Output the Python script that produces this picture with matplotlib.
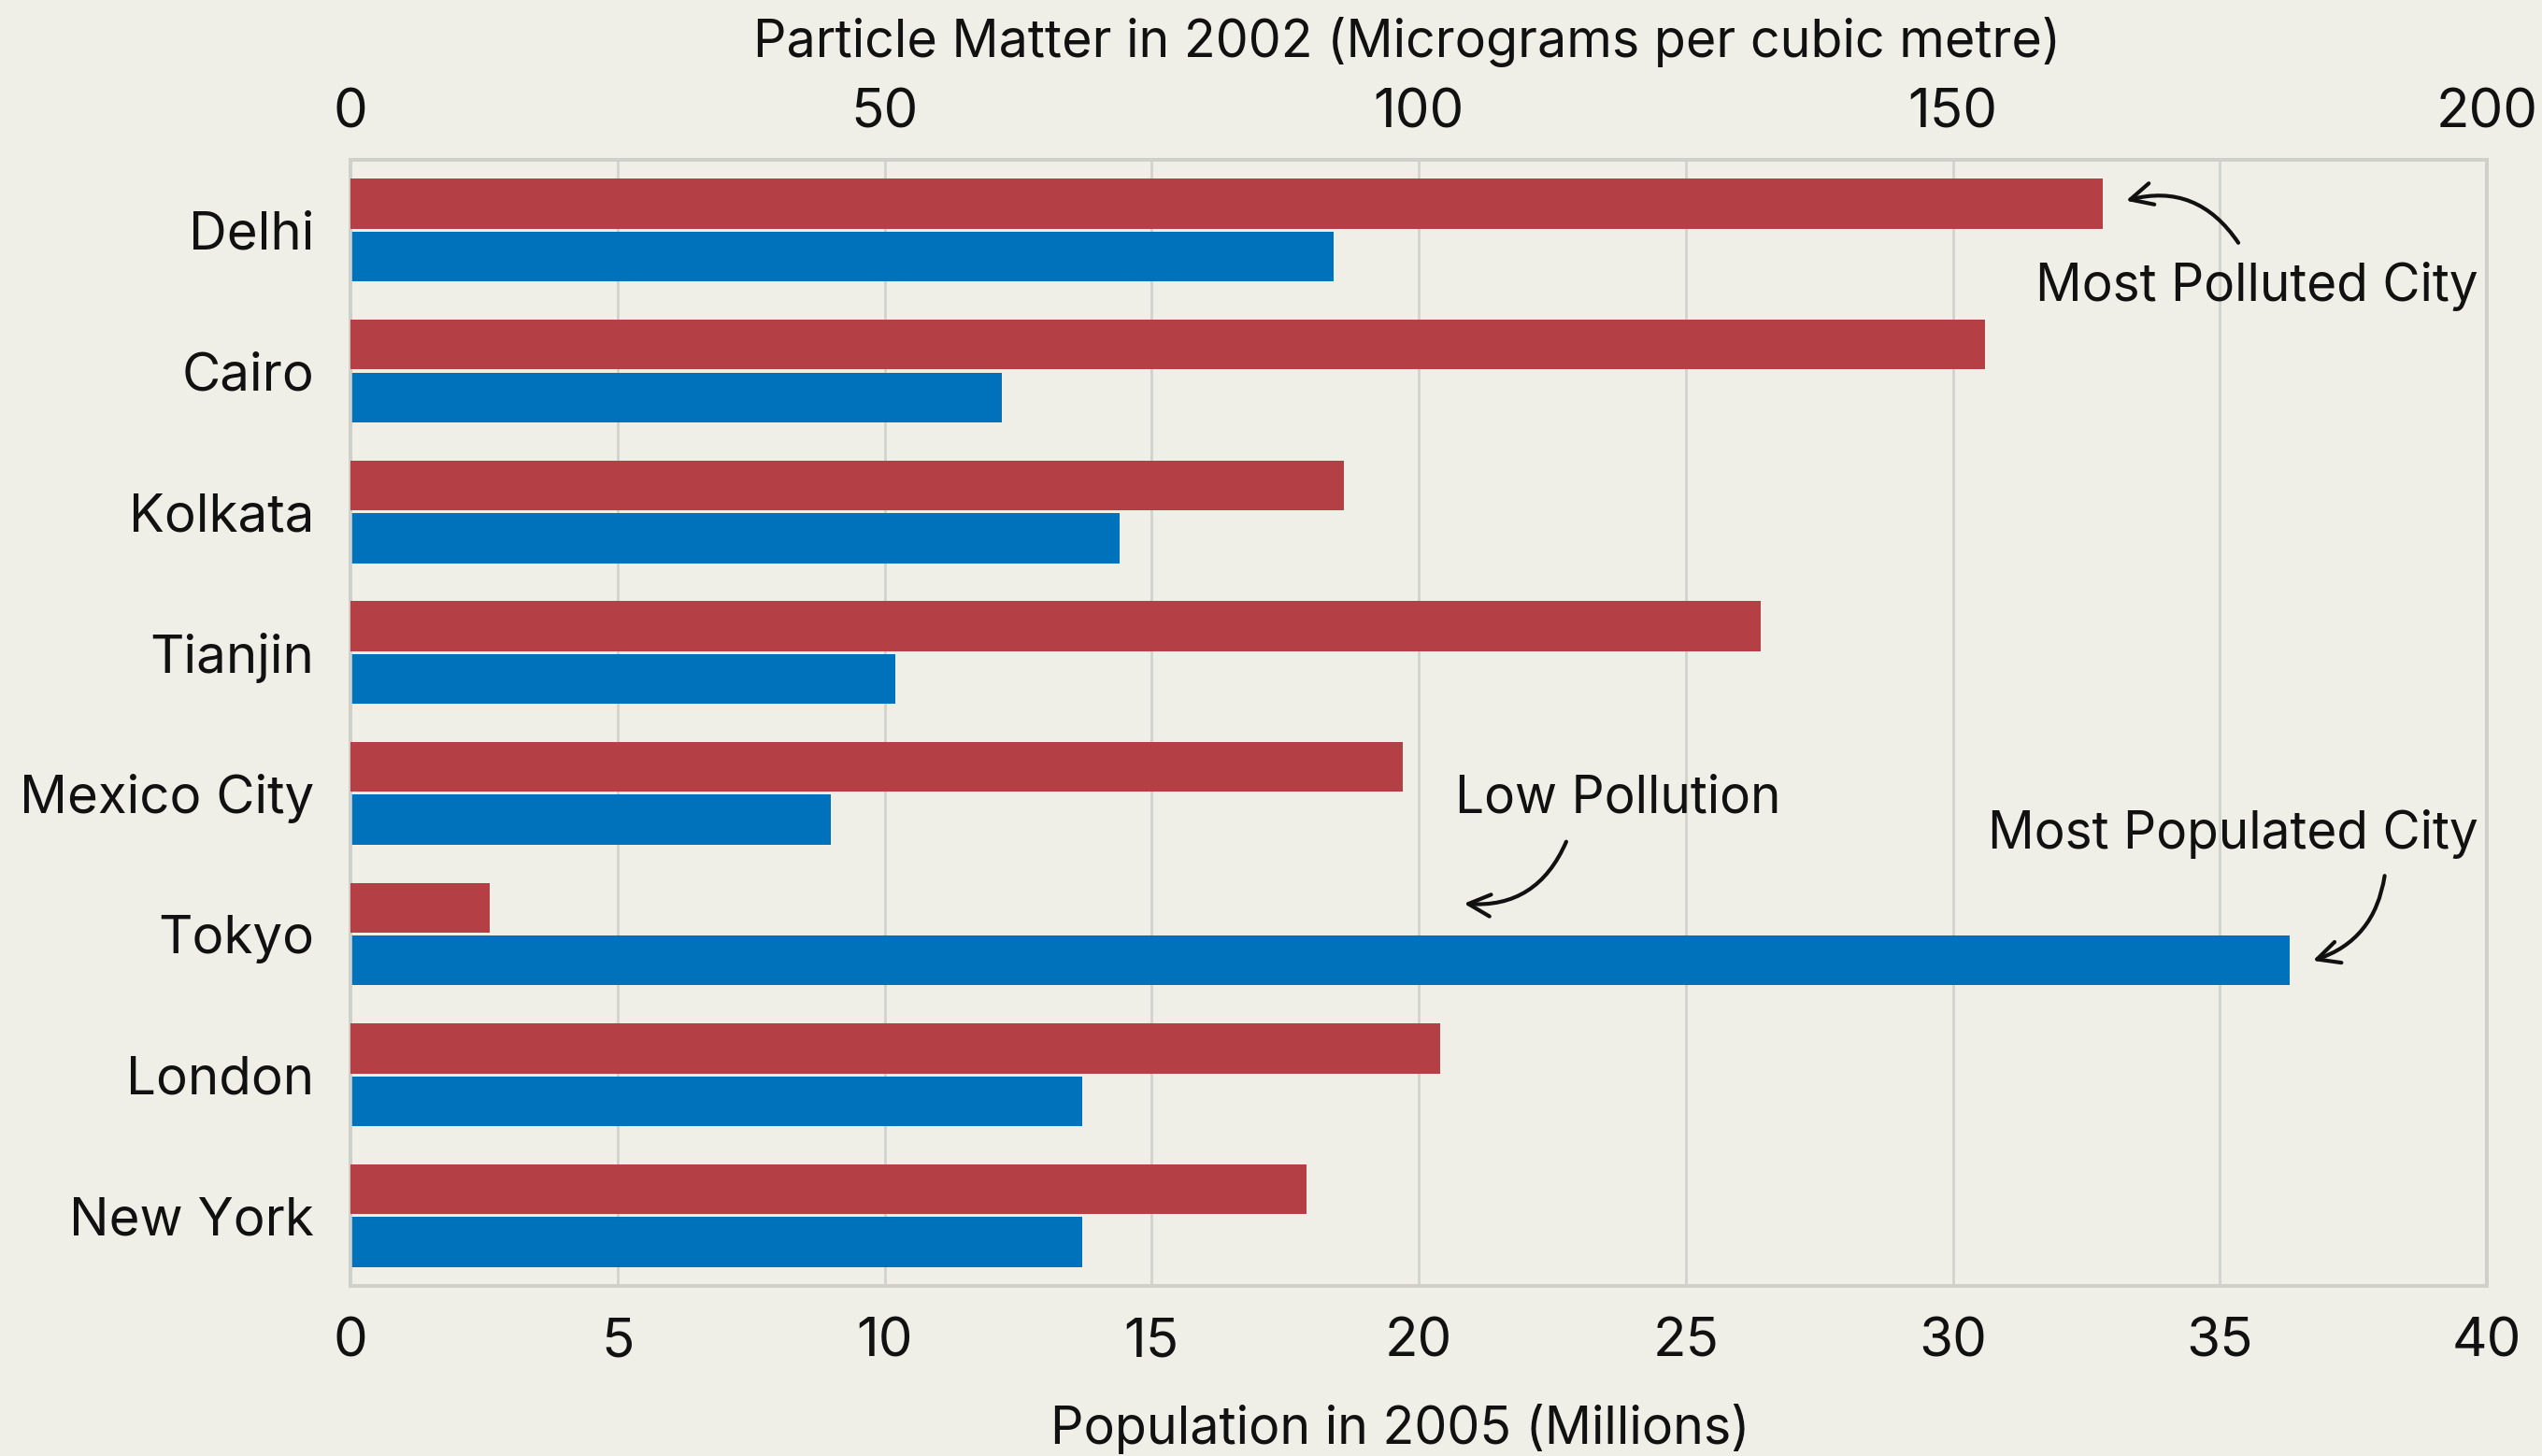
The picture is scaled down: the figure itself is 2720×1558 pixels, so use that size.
import matplotlib
matplotlib.use("Agg")
import matplotlib.pyplot as plt
import numpy as np

cities = ["Delhi", "Cairo", "Kolkata", "Tianjin", "Mexico City", "Tokyo", "London", "New York"]
pm_2002 = [164, 153, 93, 132, 98.5, 13, 102, 89.5]
population_2005 = [18.4, 12.2, 14.4, 10.2, 9.0, 36.3, 13.7, 13.7]
pop_ticks = [0, 5, 10, 15, 20, 25, 30, 35, 40]
pm_ticks = [0, 50, 100, 150, 200]

BG = "#F0EFE7"
RED = "#B44046"
BLUE = "#0072BC"
GRID = "#D2D2CE"
INK = "#111111"

plt.rcParams['font.family'] = ['Inter', 'DejaVu Sans']

fig = plt.figure(figsize=(13.6, 7.79), dpi=200, facecolor=BG)
ax = fig.add_axes([0.1379, 0.1168, 0.9783 - 0.1379, 0.8902 - 0.1168])
ax.set_facecolor(BG)
ax2 = ax.twiny()

y = np.arange(len(cities))
h = 0.355
off = h / 2 + 0.01

ax.barh(y + off, population_2005, height=h, color=BLUE, zorder=3)
ax2.barh(y - off, pm_2002, height=h, color=RED, zorder=3)

ax.set_xlim(0, 40)
ax2.set_xlim(0, 200)
ax.set_ylim(len(cities) - 0.5, -0.5)
ax.set_xticks(pop_ticks)
ax2.set_xticks(pm_ticks)
ax.set_yticks(y)
ax.set_yticklabels(cities)

ax.grid(axis="x", color=GRID, lw=1.0, zorder=0)
ax.set_axisbelow(True)

for a in (ax, ax2):
    for s in a.spines.values():
        s.set_color("#CFCFCB")
        s.set_linewidth(1.3)
    a.tick_params(length=0, labelsize=21, colors=INK)
ax.tick_params(axis="x", pad=12)
ax2.tick_params(axis="x", pad=8)
ax.tick_params(axis="y", pad=14, labelsize=20.3)

ax.set_xlabel("Population in 2005 (Millions)", fontsize=20, color=INK)
ax.xaxis.set_label_coords(0.4915, -0.127)
ax.xaxis.label.set_va("center")
ax2.set_xlabel("Particle Matter in 2002 (Micrograms per cubic metre)", fontsize=20, color=INK)
ax2.xaxis.set_label_coords(0.4945, 1.105)
ax2.xaxis.label.set_va("center")

arrow = dict(arrowstyle="->,head_length=0.85,head_width=0.42", color=INK, lw=1.5)

# Most Polluted City
ax.annotate("", xy=(33.15, -0.20), xytext=(35.4, 0.12),
            arrowprops=dict(connectionstyle="arc3,rad=0.38", **arrow), zorder=5)
ax.text(39.83, 0.40, "Most Polluted City", ha="right", va="center", fontsize=19.8, color=INK)

# Low Pollution
ax.annotate("", xy=(20.75, 4.78), xytext=(22.8, 4.31),
            arrowprops=dict(connectionstyle="arc3,rad=-0.38", **arrow), zorder=5)
ax.text(23.73, 4.04, "Low Pollution", ha="center", va="center", fontsize=19.8, color=INK)

# Most Populated City
ax.annotate("", xy=(36.65, 5.20), xytext=(38.1, 4.55),
            arrowprops=dict(connectionstyle="arc3,rad=-0.33", **arrow), zorder=5)
ax.text(39.83, 4.29, "Most Populated City", ha="right", va="center", fontsize=19.8, color=INK)

fig.savefig("out.png", dpi=200, facecolor=BG)
